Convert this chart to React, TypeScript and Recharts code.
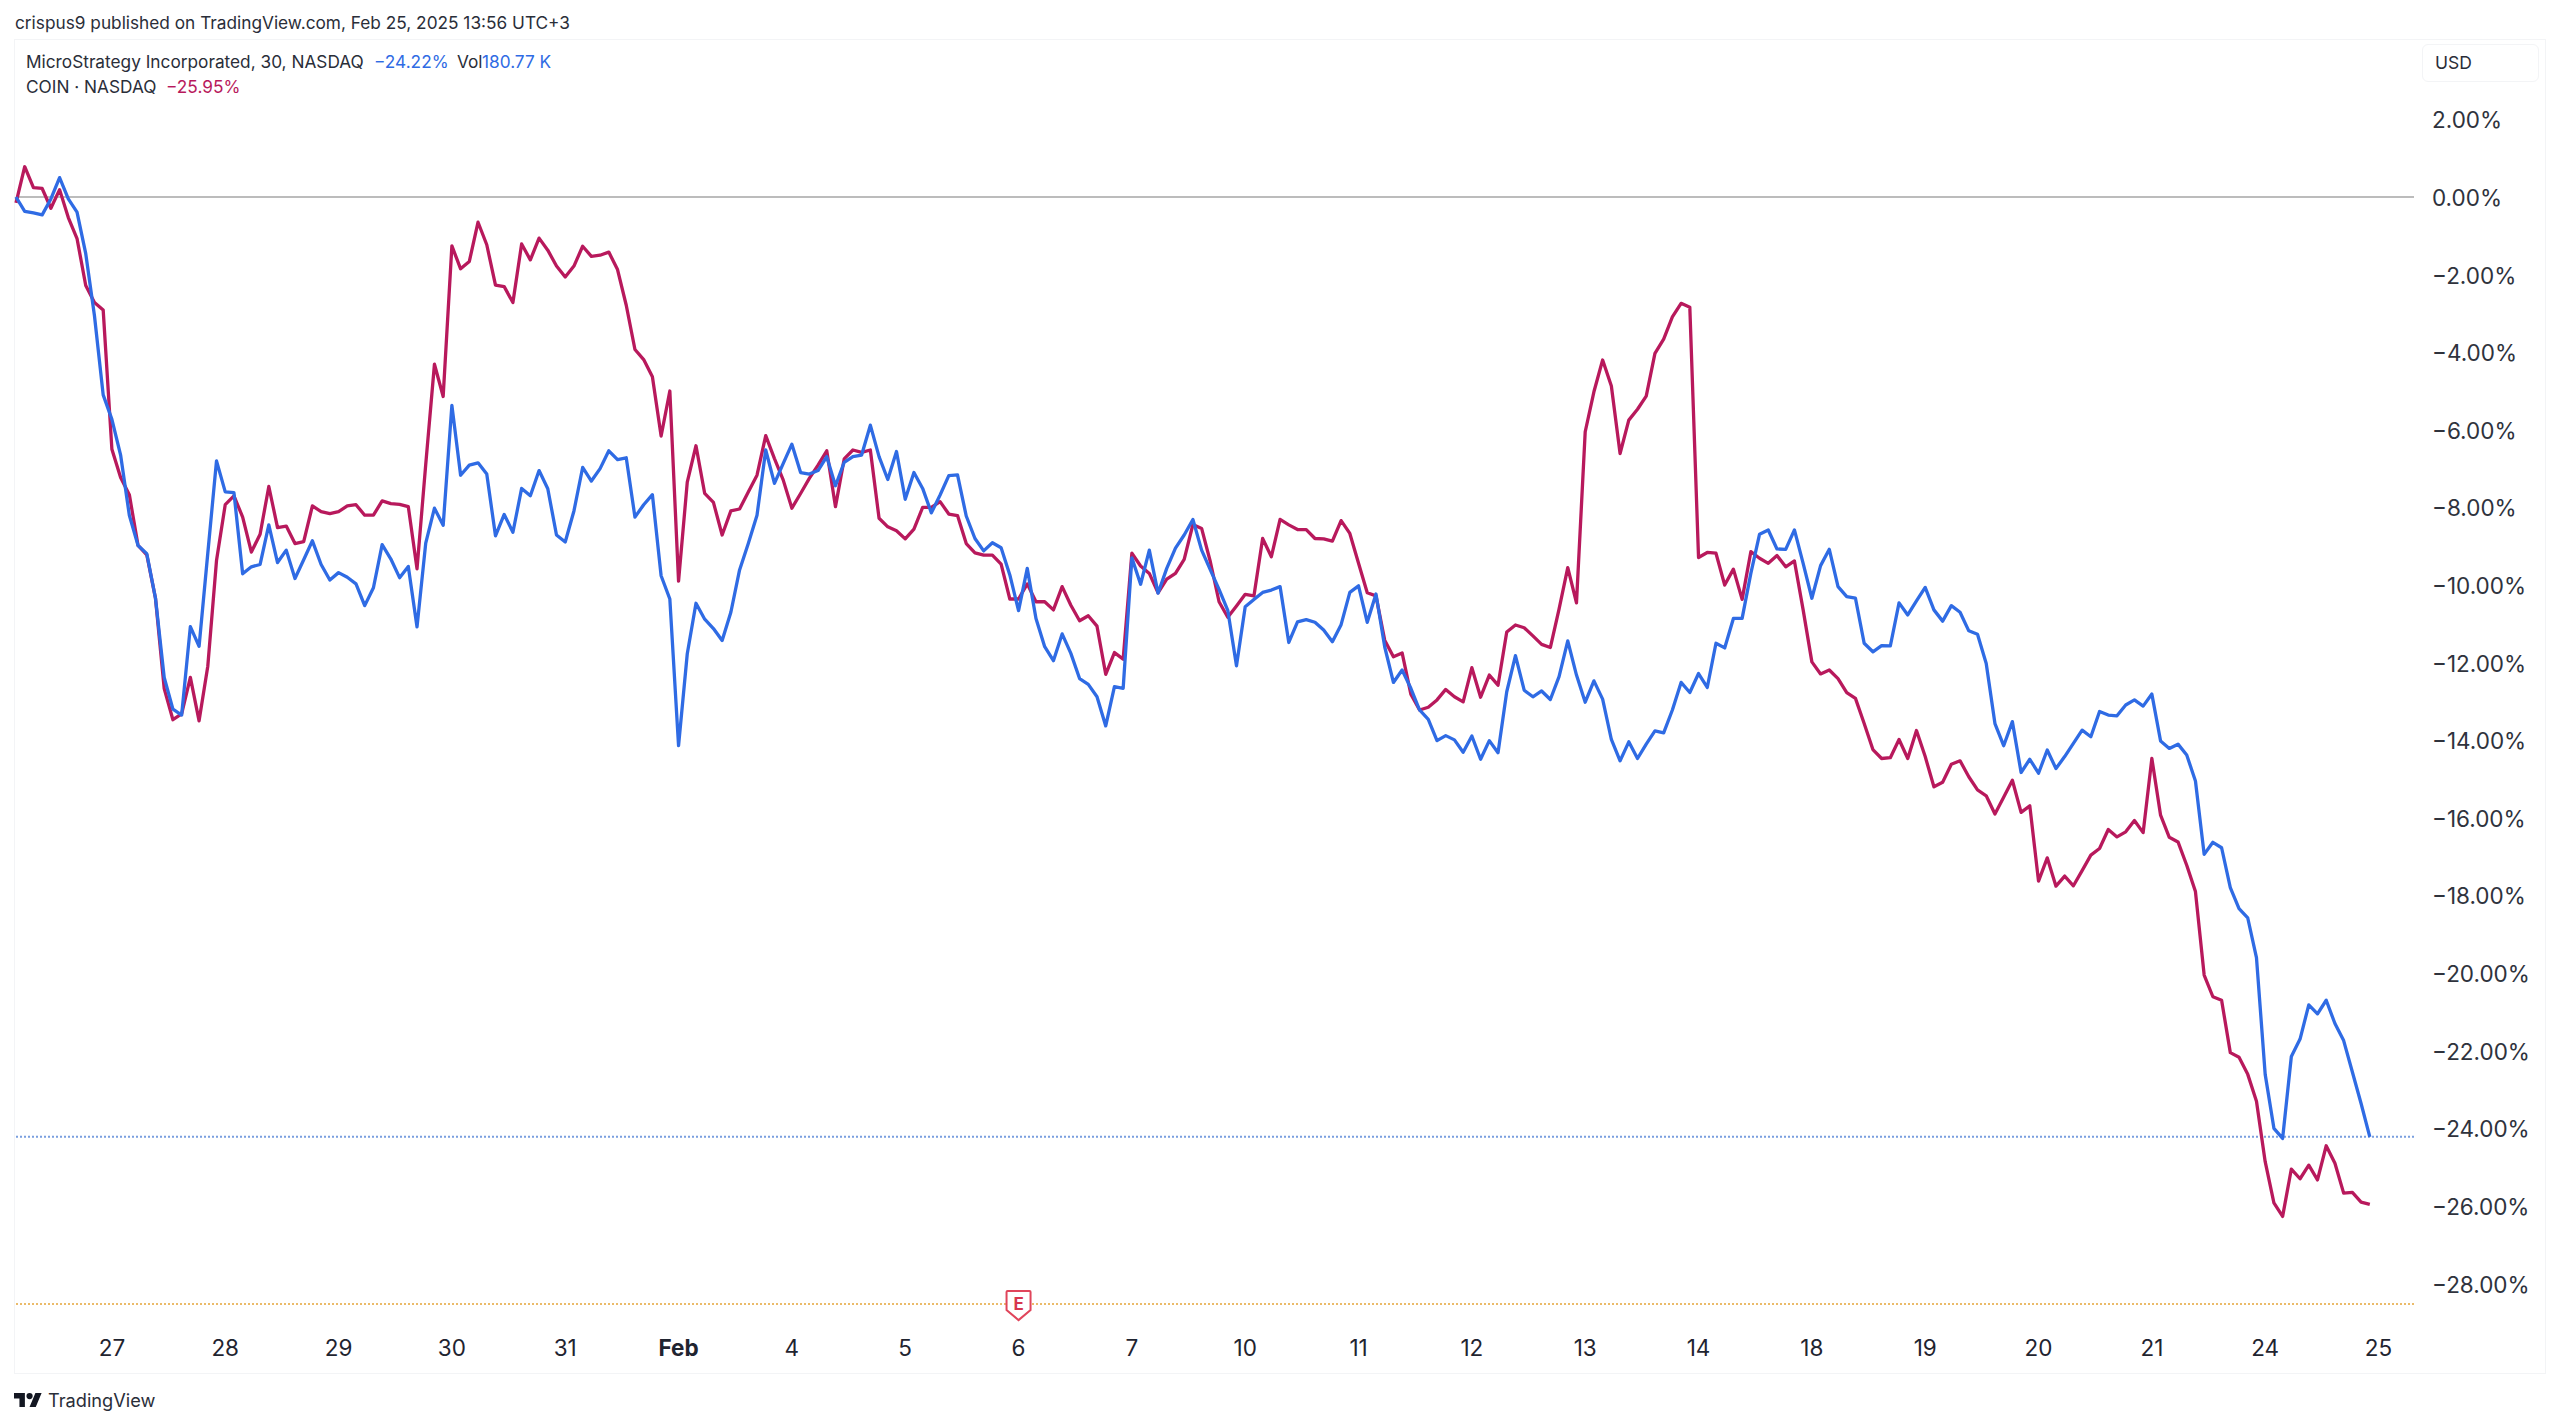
import { LineChart, Line, XAxis, YAxis, ReferenceLine, ReferenceDot } from "recharts";

const mstrValues = [
  0, -0.37, -0.41, -0.46, -0.05, 0.5, -0.05, -0.39, -1.46, -3.06,
  -5.1, -5.73, -6.65, -8.2, -8.98, -9.19, -10.34, -12.38, -13.2, -13.35,
  -11.07, -11.58, -9.18, -6.8, -7.6, -7.62, -9.71, -9.53, -9.47, -8.45,
  -9.42, -9.1, -9.83, -9.35, -8.86, -9.47, -9.87, -9.68, -9.8, -9.97,
  -10.53, -10.07, -8.96, -9.33, -9.81, -9.52, -11.08, -8.92, -8.02, -8.46,
  -5.37, -7.17, -6.91, -6.85, -7.14, -8.73, -8.18, -8.64, -7.51, -7.7,
  -7.05, -7.52, -8.71, -8.89, -8.09, -6.97, -7.32, -7.0, -6.54, -6.77,
  -6.72, -8.25, -7.93, -7.67, -9.76, -10.36, -14.14, -11.77, -10.47, -10.88,
  -11.12, -11.43, -10.7, -9.61, -8.93, -8.2, -6.52, -7.38, -6.87, -6.37,
  -7.1, -7.14, -7.05, -6.69, -7.44, -6.84, -6.69, -6.65, -5.88, -6.69,
  -7.28, -6.56, -7.79, -7.1, -7.51, -8.14, -7.68, -7.18, -7.16, -8.22,
  -8.8, -9.12, -8.91, -9.04, -9.74, -10.66, -9.57, -10.86, -11.59, -11.95,
  -11.26, -11.76, -12.41, -12.56, -12.88, -13.63, -12.62, -12.66, -9.3, -9.98,
  -9.1, -10.21, -9.57, -9.05, -8.71, -8.31, -9.1, -9.61, -10.11, -10.65,
  -12.08, -10.56, -10.37, -10.19, -10.13, -10.04, -11.48, -10.95, -10.89, -10.96,
  -11.16, -11.46, -11.02, -10.19, -10.02, -10.96, -10.23, -11.59, -12.51, -12.19,
  -12.66, -13.22, -13.46, -14.01, -13.88, -13.99, -14.31, -13.89, -14.49, -14.01,
  -14.32, -12.75, -11.82, -12.71, -12.88, -12.73, -12.95, -12.36, -11.44, -12.32,
  -13.02, -12.47, -12.94, -13.98, -14.53, -14.04, -14.47, -14.1, -13.76, -13.81,
  -13.22, -12.51, -12.77, -12.28, -12.64, -11.5, -11.62, -10.86, -10.86, -9.7,
  -8.69, -8.58, -9.07, -9.08, -8.58, -9.44, -10.34, -9.5, -9.08, -10.04,
  -10.3, -10.34, -11.5, -11.72, -11.56, -11.57, -10.46, -10.77, -10.41, -10.06,
  -10.64, -10.93, -10.53, -10.7, -11.18, -11.27, -12.02, -13.57, -14.14, -13.52,
  -14.83, -14.49, -14.85, -14.25, -14.73, -14.42, -14.08, -13.74, -13.91, -13.26,
  -13.35, -13.37, -13.09, -12.96, -13.12, -12.81, -14.02, -14.21, -14.1, -14.38,
  -15.05, -16.94, -16.63, -16.77, -17.8, -18.34, -18.58, -19.6, -22.61, -24.0,
  -24.26, -22.15, -21.7, -20.82, -21.05, -20.7, -21.3, -21.74, -22.55, -23.36,
  -24.22,
];

const coinValues = [
  -0.15, 0.78, 0.24, 0.22, -0.29, 0.19, -0.53, -1.07, -2.28, -2.72,
  -2.91, -6.5, -7.23, -7.67, -8.98, -9.22, -10.34, -12.67, -13.47, -13.32,
  -12.38, -13.5, -12.09, -9.37, -7.93, -7.7, -8.25, -9.15, -8.69, -7.46,
  -8.52, -8.48, -8.93, -8.88, -7.96, -8.11, -8.16, -8.11, -7.96, -7.93,
  -8.2, -8.2, -7.83, -7.9, -7.92, -7.98, -9.58, -6.89, -4.31, -5.14,
  -1.26, -1.85, -1.66, -0.65, -1.23, -2.27, -2.31, -2.72, -1.21, -1.62,
  -1.06, -1.37, -1.78, -2.06, -1.78, -1.27, -1.53, -1.5, -1.42, -1.87,
  -2.79, -3.93, -4.19, -4.63, -6.16, -5.0, -9.9, -7.35, -6.41, -7.64,
  -7.87, -8.71, -8.09, -8.04, -7.6, -7.17, -6.15, -6.74, -7.29, -8.02,
  -7.64, -7.25, -6.91, -6.54, -7.98, -6.75, -6.52, -6.58, -6.52, -8.28,
  -8.5, -8.6, -8.81, -8.56, -8.0, -8.0, -7.85, -8.17, -8.21, -8.93,
  -9.17, -9.23, -9.23, -9.46, -10.36, -10.36, -9.97, -10.43, -10.43, -10.64,
  -10.04, -10.52, -10.92, -10.79, -11.06, -12.3, -11.74, -11.91, -9.18, -9.51,
  -9.7, -10.2, -9.85, -9.7, -9.34, -8.44, -8.54, -9.4, -10.43, -10.83,
  -10.54, -10.24, -10.28, -8.8, -9.27, -8.31, -8.45, -8.57, -8.57, -8.8,
  -8.81, -8.87, -8.34, -8.67, -9.44, -10.2, -10.28, -11.42, -11.85, -11.75,
  -12.81, -13.22, -13.15, -12.96, -12.69, -12.88, -13.01, -12.13, -12.89, -12.32,
  -12.58, -11.21, -11.03, -11.1, -11.31, -11.53, -11.61, -10.62, -9.55, -10.46,
  -6.05, -5.02, -4.2, -4.87, -6.61, -5.75, -5.47, -5.13, -4.03, -3.66,
  -3.09, -2.74, -2.84, -9.29, -9.16, -9.18, -10.0, -9.59, -10.37, -9.14,
  -9.31, -9.44, -9.24, -9.53, -9.38, -10.64, -11.98, -12.29, -12.19, -12.41,
  -12.77, -12.92, -13.57, -14.24, -14.47, -14.45, -13.98, -14.47, -13.75, -14.42,
  -15.2, -15.08, -14.62, -14.53, -14.94, -15.28, -15.43, -15.9, -15.47, -15.03,
  -15.86, -15.69, -17.63, -17.03, -17.76, -17.5, -17.75, -17.36, -16.96, -16.79,
  -16.3, -16.49, -16.36, -16.07, -16.38, -14.47, -15.93, -16.5, -16.62, -17.22,
  -17.9, -20.05, -20.61, -20.7, -22.05, -22.17, -22.61, -23.3, -24.86, -25.92,
  -26.27, -25.05, -25.3, -24.95, -25.33, -24.45, -24.9, -25.67, -25.65, -25.9,
  -25.96,
];

// 30 minute bars, 13 per session, first session tick sits on bar 11
const dayLabels = ["27", "28", "29", "30", "31", "Feb", "4", "5", "6", "7", "10", "11", "12", "13", "14", "18", "19", "20", "21", "24", "25"];
const dayTicks = [11, 24, 37, 50, 63, 76, 89, 102, 115, 128, 141, 154, 167, 180, 193, 206, 219, 232, 245, 258, 271];
const percentTicks = [2, 0, -2, -4, -6, -8, -10, -12, -14, -16, -18, -20, -22, -24, -26, -28];

const earningsBar = 115;
const lastMstr = -24.22;
const priceLine = -28.53;

const chartData = mstrValues.map((mstr, bar) => ({ bar, mstr, coin: coinValues[bar] }));

const BLUE = "#2F6BE4";
const RED = "#B8195C";
const FONT = "Inter, 'Liberation Sans', sans-serif";
const TEXT = "#2a2e39";

const formatPercent = (v: number) =>
  v < 0 ? `\u2212${Math.abs(v).toFixed(2)}%` : `${v.toFixed(2)}%`;

function DayTick({ x, y, payload }: any) {
  const label = dayLabels[dayTicks.indexOf(payload.value)];
  return (
    <text
      x={x}
      y={y}
      textAnchor="middle"
      dominantBaseline="central"
      fontFamily={FONT}
      fontSize={22.5}
      fontWeight={label === "Feb" ? 700 : 400}
      fill="#1f2430"
    >
      {label}
    </text>
  );
}

function EarningsFlag({ cx, cy }: any) {
  return (
    <g transform={`translate(${cx},${cy})`}>
      <path
        d="M-11,-13 H11 Q12,-13 12,-12 V6 L0,16 L-12,6 V-12 Q-12,-13 -11,-13 Z"
        fill="#ffffff"
        stroke="#E0455B"
        strokeWidth={2}
      />
      <text x={0} y={0} textAnchor="middle" dominantBaseline="central" fontFamily={FONT} fontSize={17} fontWeight={700} fill="#D7364E">
        E
      </text>
    </g>
  );
}

function Label({ x, y, color, size = 17.25, children }: any) {
  return (
    <span
      style={{
        position: "absolute",
        left: x,
        top: y,
        transform: "translateY(-50%)",
        color: color ?? TEXT,
        fontFamily: FONT,
        fontSize: size,
        lineHeight: 1,
        whiteSpace: "nowrap",
      }}
    >
      {children}
    </span>
  );
}

export default function App() {
  return (
    <div style={{ position: "absolute", left: 0, top: 0, width: 2560, height: 1424, background: "#fff", overflow: "hidden" }}>
      {/* chart frame */}
      <div style={{ position: "absolute", left: 14, top: 39, width: 2532, height: 1335, border: "1.5px solid #f3f4f6", boxSizing: "border-box" }} />
      <div style={{ position: "absolute", left: 2422, top: 44, width: 117, height: 38, border: "1.5px solid #f3f4f6", borderRadius: 6, boxSizing: "border-box" }} />

      <div style={{ position: "absolute", left: 0, top: 0 }}>
        <LineChart
          width={2560}
          height={1424}
          data={chartData}
          margin={{ top: 40, right: 0, bottom: 0, left: 16 }}
        >
          <XAxis
            dataKey="bar"
            type="number"
            domain={[0, 275.07]}
            ticks={dayTicks}
            interval={0}
            height={104}
            axisLine={false}
            tickLine={false}
            tickSize={0}
            tickMargin={27}
            tick={<DayTick />}
          />
          <YAxis
            orientation="right"
            type="number"
            domain={[-28.94, 4.046]}
            ticks={percentTicks}
            interval={0}
            width={146}
            axisLine={false}
            tickLine={false}
            tickSize={0}
            tickMargin={18}
            tickFormatter={formatPercent}
            tick={{ fill: "#2f333d", fontSize: 22.5, fontFamily: FONT, dy: 1 }}
          />
          <ReferenceLine y={0} stroke="#bcbcbc" strokeWidth={2} />
          <ReferenceLine y={lastMstr} stroke="#7a9fdf" strokeWidth={2} strokeDasharray="2 2" />
          <ReferenceLine y={priceLine} stroke="#EBBB6A" strokeWidth={2} strokeDasharray="2 2" />
          <ReferenceDot x={earningsBar} y={priceLine} shape={<EarningsFlag />} />
          <Line dataKey="coin" stroke={RED} strokeWidth={3.3} dot={false} isAnimationActive={false} strokeLinejoin="round" />
          <Line dataKey="mstr" stroke={BLUE} strokeWidth={3.3} dot={false} isAnimationActive={false} strokeLinejoin="round" />
        </LineChart>
      </div>

      <Label x={15} y={23}>crispus9 published on TradingView.com, Feb 25, 2025 13:56 UTC+3</Label>
      <Label x={26} y={62}>MicroStrategy Incorporated, 30, NASDAQ</Label>
      <Label x={374} y={62} color={BLUE}>{"\u221224.22%"}</Label>
      <Label x={457} y={62}>Vol</Label>
      <Label x={482} y={62} color={BLUE}>180.77 K</Label>
      <Label x={26} y={87}>COIN · NASDAQ</Label>
      <Label x={166} y={87} color={RED}>{"\u221225.95%"}</Label>
      <Label x={2435} y={63} size={17.5}>USD</Label>

      {/* TradingView mark */}
      <svg style={{ position: "absolute", left: 14, top: 1392 }} width={28} height={16} viewBox="0 3 36 20">
        <path d="M14 22H7V11H0V4h14v18zM28 22h-8l7.5-18h8L28 22z" fill="#131722" />
        <circle cx={20} cy={8} r={4} fill="#131722" />
      </svg>
      <Label x={48} y={1400} size={18.2}>TradingView</Label>
    </div>
  );
}
